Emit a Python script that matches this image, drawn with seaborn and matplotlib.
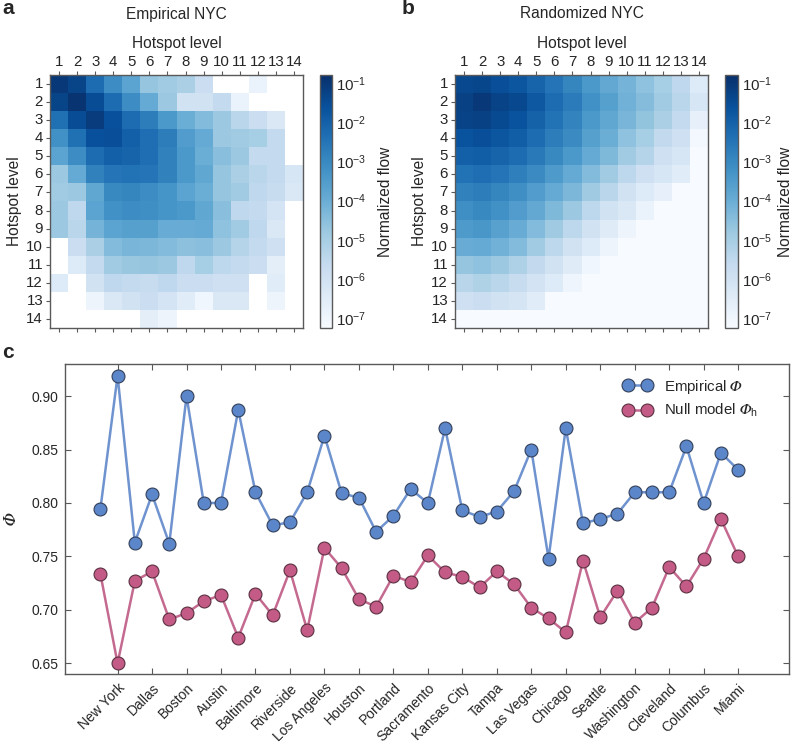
import numpy as np
import pandas as pd
import matplotlib
matplotlib.use("Agg")
import matplotlib.pyplot as plt
import seaborn as sns
from matplotlib.colors import LogNorm
from matplotlib.font_manager import FontProperties, findfont, get_font

sns.set_style("ticks")
plt.rcParams['font.family'] = ['Liberation Sans', 'DejaVu Sans']
plt.rcParams['mathtext.fontset'] = 'custom'
plt.rcParams['mathtext.rm'] = 'Liberation Sans'
plt.rcParams['mathtext.bf'] = 'Liberation Sans:bold'
plt.rcParams['mathtext.fallback'] = 'stix'

# italic capital phi (U+1D6F7) needs a font that has it
PHI = r"\Phi"
for fam in ["STIXGeneral", "DejaVu Serif", "DejaVu Sans"]:
    try:
        f = get_font(findfont(FontProperties(family=fam), fallback_to_default=False))
        if f.get_char_index(0x1D6F7):
            plt.rcParams['mathtext.it'] = fam
            PHI = "\U0001D6F7"
            break
    except Exception:
        pass

# Hotspot levels
levels = list(range(1, 15))
N = np.nan

# log10 of normalized flow (rows: origin level, cols: destination level), NaN = no flow
log_flow_empirical = [
    [-1.0, -1.3, -2.3, -3.1, -3.7, -4.7, -4.9, -5.1, -5.8, N, N, -6.8, N, N],
    [-1.3, -0.9, -1.5, -2.3, -3.1, -3.9, -4.8, -6.0, -6.0, -5.6, -6.8, N, N, N],
    [-2.4, -1.5, -1.1, -1.6, -2.3, -2.7, -3.4, -4.0, -4.4, -4.8, -5.4, -5.8, -6.3, N],
    [-3.2, -2.4, -1.6, -1.55, -2.0, -2.35, -2.7, -3.5, -3.9, -4.8, -4.9, -5.0, -5.6, N],
    [-3.7, -3.1, -2.3, -2.0, -2.1, -2.35, -2.8, -3.4, -4.0, -4.5, -4.8, -5.6, -5.6, N],
    [-4.8, -3.9, -2.8, -2.5, -2.45, -2.5, -2.8, -3.4, -3.8, -4.7, -5.1, -5.4, -5.6, -6.2],
    [-4.9, -4.8, -3.8, -3.0, -2.9, -3.1, -3.3, -3.7, -4.0, -4.7, -4.9, -5.5, -5.7, -6.3],
    [-4.8, -5.5, -3.7, -3.2, -3.1, -3.15, -3.3, -3.4, -3.8, -4.5, -5.5, -5.6, -6.1, N],
    [-4.8, -5.4, -4.2, -3.7, -3.6, -3.6, -3.95, -3.95, -3.9, -4.6, -4.9, -5.5, -6.3, N],
    [N, -5.8, -5.1, -4.4, -4.25, -4.3, -4.4, -4.55, -4.5, -4.8, -5.3, -5.6, -5.9, N],
    [N, -6.4, -5.6, -4.9, -4.75, -4.7, -4.8, -5.5, -5.0, -5.45, -5.6, -5.8, -6.6, N],
    [-6.4, N, -6.0, -5.5, -5.6, -5.7, -5.5, -5.8, -5.8, -5.9, -5.9, N, -6.5, N],
    [N, N, -6.9, -6.3, -6.0, -5.8, -6.1, -6.5, -7.0, -6.3, -6.3, N, -6.9, N],
    [N, N, N, N, N, -6.6, -6.9, N, N, N, N, N, N, N],
]

log_flow_randomized = [
    [-1.4, -1.35, -1.55, -1.75, -2.1, -2.5, -2.9, -3.4, -3.85, -4.2, -4.6, -5.0, -5.5, -6.4],
    [-1.2, -1.0, -1.25, -1.4, -1.8, -2.3, -2.65, -3.2, -3.6, -4.1, -4.45, -4.9, -5.4, -6.2],
    [-1.25, -1.2, -1.45, -1.65, -2.05, -2.45, -2.85, -3.4, -3.8, -4.25, -4.65, -5.1, -5.6, -6.7],
    [-1.65, -1.55, -1.75, -1.95, -2.3, -2.7, -3.05, -3.6, -4.0, -4.6, -5.0, -5.55, -5.9, -7.1],
    [-2.0, -1.95, -2.1, -2.3, -2.6, -3.0, -3.4, -3.9, -4.35, -4.9, -5.3, -5.9, -6.2, -7.6],
    [-2.45, -2.35, -2.5, -2.75, -3.05, -3.45, -3.9, -4.4, -4.9, -5.45, -5.9, -6.2, -6.5, -7.6],
    [-2.8, -2.7, -2.9, -3.15, -3.5, -3.9, -4.3, -4.85, -5.4, -6.0, -6.4, -6.7, -7.6, -7.6],
    [-3.15, -3.0, -3.2, -3.5, -3.85, -4.35, -4.8, -5.45, -6.0, -6.3, -6.8, -7.6, -7.6, -7.6],
    [-3.45, -3.35, -3.65, -3.95, -4.4, -4.85, -5.45, -6.0, -6.45, -6.9, -7.6, -7.6, -7.6, -7.6],
    [-3.95, -3.9, -4.1, -4.4, -4.9, -5.45, -6.0, -6.4, -6.9, -7.6, -7.6, -7.6, -7.6, -7.6],
    [-4.7, -4.6, -4.8, -5.15, -5.55, -6.0, -6.45, -7.0, -7.6, -7.6, -7.6, -7.6, -7.6, -7.6],
    [-5.35, -5.2, -5.4, -5.7, -6.05, -6.4, -6.95, -7.6, -7.6, -7.6, -7.6, -7.6, -7.6, -7.6],
    [-5.9, -5.8, -6.0, -6.15, -6.5, -7.6, -7.6, -7.6, -7.6, -7.6, -7.6, -7.6, -7.6, -7.6],
    [-7.6, -7.6, -7.6, -7.6, -7.6, -7.6, -7.6, -7.6, -7.6, -7.6, -7.6, -7.6, -7.6, -7.6],
]

# Panel c: 38 cities, every other one labelled
city_labels = ["New York", "Dallas", "Boston", "Austin", "Baltimore", "Riverside",
               "Los Angeles", "Houston", "Portland", "Sacramento", "Kansas City",
               "Tampa", "Las Vegas", "Chicago", "Seattle", "Washington",
               "Cleveland", "Columbus", "Miami"]
phi_empirical = [0.794, 0.919, 0.763, 0.808, 0.762, 0.900, 0.800, 0.800, 0.887, 0.810,
                 0.779, 0.782, 0.810, 0.863, 0.809, 0.805, 0.773, 0.788, 0.813, 0.800,
                 0.870, 0.793, 0.787, 0.792, 0.811, 0.850, 0.748, 0.870, 0.781, 0.785,
                 0.790, 0.810, 0.810, 0.810, 0.853, 0.800, 0.847, 0.831]
phi_null = [0.734, 0.650, 0.727, 0.736, 0.691, 0.697, 0.708, 0.714, 0.674, 0.715,
            0.695, 0.737, 0.681, 0.758, 0.739, 0.710, 0.703, 0.732, 0.726, 0.751,
            0.735, 0.731, 0.721, 0.736, 0.724, 0.702, 0.692, 0.679, 0.746, 0.693,
            0.718, 0.688, 0.702, 0.740, 0.722, 0.748, 0.785, 0.750]
phi_yticks = [0.65, 0.70, 0.75, 0.80, 0.85, 0.90]

VMIN, VMAX = 5.6e-8, 0.16
SPINE = "0.35"
FS = 10.8

fig = plt.figure(figsize=(7.92, 7.42), dpi=100)


def draw_heat(rect, cbar_rect, log_mat, title, letter, letter_x, cbar_pad):
    ax = fig.add_axes(rect)
    cax = fig.add_axes(cbar_rect)
    df = pd.DataFrame(10.0 ** np.array(log_mat, dtype=float), index=levels, columns=levels)
    sns.heatmap(df, ax=ax, cbar_ax=cax, cmap="Blues",
                norm=LogNorm(vmin=VMIN, vmax=VMAX))
    ax.xaxis.tick_top()
    ax.xaxis.set_label_position("top")
    ax.set_xlabel("Hotspot level", fontsize=FS + 0.4, labelpad=5)
    ax.set_ylabel("Hotspot level", fontsize=FS + 0.4, labelpad=3)
    ax.tick_params(axis="x", top=True, bottom=True, labeltop=True, labelbottom=False,
                   direction="out", length=3, width=0.8, color=SPINE, labelsize=FS, pad=1.5)
    ax.tick_params(axis="y", left=True, direction="out", length=3, width=0.8,
                   color=SPINE, labelsize=FS, pad=2, labelrotation=0)
    for s in ax.spines.values():
        s.set_visible(True)
        s.set_color(SPINE)
        s.set_linewidth(1.0)
    cb = ax.collections[0].colorbar
    cb.outline.set_linewidth(1.0)
    cb.outline.set_edgecolor(SPINE)
    cb.set_label("Normalized flow", fontsize=FS + 0.4, labelpad=cbar_pad)
    cax.tick_params(which="major", direction="in", length=4, width=0.8, color=SPINE,
                    labelsize=FS, pad=3)
    cax.tick_params(which="minor", direction="in", length=2, width=0.6, color=SPINE)
    cx = rect[0] + rect[2] / 2
    fig.text(cx, 1 - 14 / 742, title, ha="center", va="center", fontsize=FS + 0.4)
    fig.text(letter_x, 1 - 8 / 742, letter, ha="left", va="center",
             fontsize=15, fontweight="bold")


draw_heat([50 / 792, 1 - 328 / 742, 253 / 792, 253 / 742],
          [320 / 792, 1 - 328 / 742, 12 / 792, 253 / 742],
          log_flow_empirical, "Empirical NYC", "a", 2 / 792, 8)
draw_heat([455 / 792, 1 - 328 / 742, 253 / 792, 253 / 742],
          [725 / 792, 1 - 328 / 742, 13 / 792, 253 / 742],
          log_flow_randomized, "Randomized NYC", "b", 402 / 792, 4)

# Panel c
axc = fig.add_axes([65 / 792, 1 - 674 / 742, 724 / 792, 310 / 742])
idx = np.arange(len(phi_empirical))
sns.lineplot(x=idx, y=phi_empirical, ax=axc, color="#6f93cf", linewidth=1.8,
             marker="o", markersize=9.3, markerfacecolor="#5b86c9",
             markeredgecolor="#33405a", markeredgewidth=0.8,
             label=rf"Empirical ${PHI}$")
sns.lineplot(x=idx, y=phi_null, ax=axc, color="#c46a90", linewidth=1.8,
             marker="o", markersize=9.3, markerfacecolor="#c45b86",
             markeredgecolor="#5a3040", markeredgewidth=0.8,
             label=rf"Null model ${PHI}_{{\mathrm{{h}}}}$")
axc.set_xlim(-2.05, 39.95)
axc.set_ylim(0.64, 0.93)
axc.set_yticks(phi_yticks)
axc.set_yticklabels([f"{v:.2f}" for v in phi_yticks])
axc.set_xticks(idx[1::2])
axc.set_xticklabels(city_labels, rotation=45, ha="right", rotation_mode="anchor")
axc.tick_params(axis="both", which="both", direction="in", top=True, right=True,
                length=4, width=0.8, color=SPINE, labelsize=10)
axc.tick_params(axis="x", pad=5)
axc.tick_params(axis="y", pad=5)
axc.set_ylabel(rf"${PHI}$", fontsize=12, labelpad=9)
for s in axc.spines.values():
    s.set_visible(True)
    s.set_color(SPINE)
    s.set_linewidth(1.0)
axc.legend(loc="upper right", frameon=False, numpoints=2, fontsize=10.8,
           handlelength=1.9, handletextpad=0.8, borderaxespad=0.5,
           labelspacing=0.45, bbox_to_anchor=(0.975, 1.0))
fig.text(2 / 792, 1 - 352 / 742, "c", ha="left", va="center", fontsize=15,
         fontweight="bold")

fig.savefig("out.png", dpi=100)
